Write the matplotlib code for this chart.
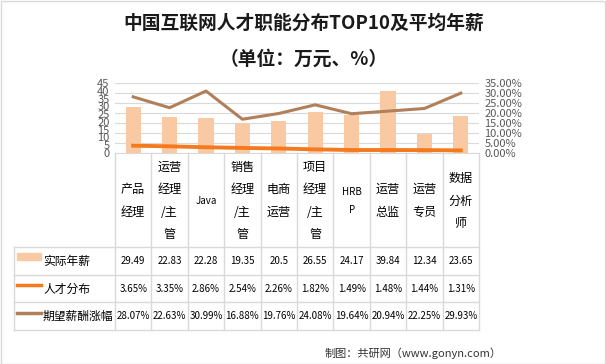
import numpy as np
import matplotlib
matplotlib.use("Agg")
import matplotlib.pyplot as plt
from matplotlib.patches import Rectangle

plt.rcParams['font.family'] = ['Noto Sans CJK SC', 'DejaVu Sans']

# data
jobs = ["产品\n经理", "运营\n经理\n/主\n管", "Java", "销售\n经理\n/主\n管", "电商\n运营",
        "项目\n经理\n/主\n管", "HRB\nP", "运营\n总监", "运营\n专员", "数据\n分析\n师"]
salary = [29.49, 22.83, 22.28, 19.35, 20.5, 26.55, 24.17, 39.84, 12.34, 23.65]
talent = [3.65, 3.35, 2.86, 2.54, 2.26, 1.82, 1.49, 1.48, 1.44, 1.31]
raise_exp = [28.07, 22.63, 30.99, 16.88, 19.76, 24.08, 19.64, 20.94, 22.25, 29.93]
row_names = ["实际年薪", "人才分布", "期望薪酬涨幅"]

C_BAR = "#F9C9A3"
C_ORANGE = "#F57A1E"
C_BROWN = "#B1805B"
C_GRID = "#D9D9D9"
C_TICK = "#595959"

W, H = 606, 364
fig = plt.figure(figsize=(W / 100, H / 100), dpi=100)
fig.patch.set_facecolor("white")

# figure border
fig.add_artist(Rectangle((0.5 / W, 0.5 / H), 1 - 1.5 / W, 1 - 1.5 / H,
                         transform=fig.transFigure, fill=False, ec="#D9D9D9", lw=1))

x0, x1 = 115, 479
y_top, y_bot = 83, 153
ax = fig.add_axes([x0 / W, 1 - y_bot / H, (x1 - x0) / W, (y_bot - y_top) / H])
ax2 = ax.twinx()

n = len(jobs)
x = np.arange(n)
ax.bar(x, salary, width=0.42, color=C_BAR, zorder=2)
ax.set_xlim(-0.5, n - 0.5)
ax.set_ylim(0, 45)
ax.set_yticks(np.arange(0, 46, 5))
ax.set_xticks([])

ax2.plot(x, np.array(raise_exp) / 100, color=C_BROWN, lw=2.2, zorder=3)
ax2.plot(x, np.array(talent) / 100, color=C_ORANGE, lw=2.8, zorder=3)
ax2.set_ylim(0, 0.35)
pct = np.arange(0, 0.351, 0.05)
ax2.set_yticks(pct)
ax2.set_yticklabels([f"{v * 100:.2f}%" for v in pct])
ax.set_zorder(ax2.get_zorder() - 1)
ax2.patch.set_visible(False)
# grid follows the right axis
for v in pct:
    ax.axhline(v / 0.35 * 45, color=C_GRID, lw=0.8, zorder=0)

for a in (ax, ax2):
    for s in a.spines.values():
        s.set_visible(False)
    a.tick_params(length=0, labelsize=8, colors=C_TICK, pad=4)
ax.spines["bottom"].set_visible(True)
ax.spines["bottom"].set_color(C_GRID)

# table in pixel coords
tab = fig.add_axes([0, 0, 1, 1])
tab.set_xlim(0, W)
tab.set_ylim(H, 0)
tab.axis("off")

colw = (x1 - x0) / n
row_y = [153, 247, 275, 302, 330]
lc = dict(color=C_GRID, lw=1)
for yy in row_y[1:]:
    tab.plot([14, x1], [yy, yy], **lc)
for i in range(n + 1):
    xx = x0 + i * colw
    tab.plot([xx, xx], [row_y[0], row_y[-1]], **lc)
tab.plot([14, 14], [row_y[1], row_y[-1]], **lc)

for i, lab in enumerate(jobs):
    cx = x0 + (i + 0.5) * colw
    fs = 7 if lab.replace("\n", "").isascii() else 8.7
    tab.text(cx, (row_y[0] + row_y[1]) / 2 + 1, lab, ha="center", va="center",
             fontsize=fs, linespacing=1.95, color="black")

vals = [[f"{v:g}" for v in salary],
        [f"{v:.2f}%" for v in talent],
        [f"{v:.2f}%" for v in raise_exp]]
for r in range(3):
    cy = (row_y[r + 1] + row_y[r + 2]) / 2
    for i in range(n):
        cx = x0 + (i + 0.5) * colw
        tab.text(cx, cy, vals[r][i], ha="center", va="center", fontsize=7, color="black")
    tab.text(43, cy + 0.5, row_names[r], ha="left", va="center", fontsize=8.5, color="black")

# legend keys
r0 = (row_y[1] + row_y[2]) / 2
tab.add_patch(Rectangle((17, r0 - 8), 24, 7, color=C_BAR))
tab.plot([17, 41], [(row_y[2] + row_y[3]) / 2 - 3.5] * 2, color=C_ORANGE, lw=2.5)
tab.plot([17, 41], [(row_y[3] + row_y[4]) / 2 - 3] * 2, color=C_BROWN, lw=2.5)

# titles
fig.text(304 / W, 1 - 23 / H, "中国互联网人才职能分布TOP10及平均年薪", ha="center", va="center",
         fontsize=13.5, fontweight="bold", color="#1a1a1a")
fig.text(304 / W, 1 - 59 / H, "（单位：万元、%）", ha="center", va="center",
         fontsize=13.5, fontweight="bold", color="#1a1a1a")
fig.text(502 / W, 1 - 353 / H, "制图：共研网（www.gonyn.com）", ha="right", va="center",
         fontsize=8, color="#333333")

fig.savefig("out.png", dpi=100, facecolor="white")
